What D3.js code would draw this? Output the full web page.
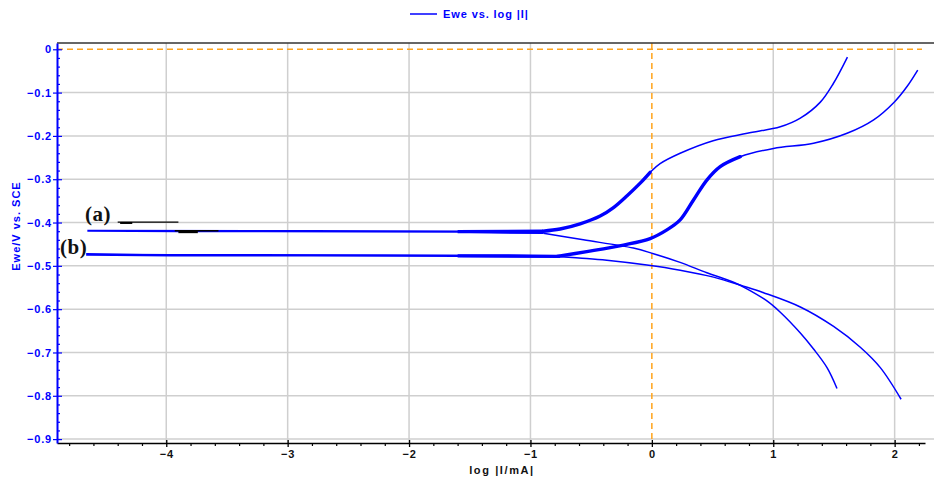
<!DOCTYPE html>
<html>
<head>
<meta charset="utf-8">
<script src="https://cdn.jsdelivr.net/npm/d3@7"></script>
<style>
  body { margin: 0; background: #fff; }
  svg { display: block; font-family: "Liberation Sans", Arial, sans-serif; }
</style>
</head>
<body>
<svg id="chart" width="934" height="485"></svg>
<script>
// tick values
const xTicks = [-4, -3, -2, -1, 0, 1, 2];
const yTicks = [0, -0.1, -0.2, -0.3, -0.4, -0.5, -0.6, -0.7, -0.8, -0.9];

// curve (a): [log|I/mA|, Ewe/V]
const aCathodic = [[1.525,-0.783],[1.443,-0.735],[1.332,-0.692],[1.223,-0.655],[1.058,-0.607],[0.948,-0.581],[0.783,-0.553],[0.673,-0.538],[0.453,-0.516],[0.233,-0.492],[0.013,-0.472],[-0.152,-0.459],[-0.564,-0.440],[-0.894,-0.425]];
const aFlat = [[-0.894,-0.423],[-1.5,-0.421],[-2.8,-0.420],[-3.9,-0.420],[-4.65,-0.419],[-3.2,-0.420],[-1.6,-0.421],[-0.896,-0.420]];
const aAnodic = [[-0.896,-0.420],[-0.756,-0.415],[-0.591,-0.403],[-0.426,-0.385],[-0.319,-0.366],[-0.204,-0.338],[-0.096,-0.309],[-0.014,-0.284],[0.068,-0.264],[0.233,-0.240],[0.505,-0.211],[0.786,-0.194],[1.058,-0.179],[1.223,-0.159],[1.388,-0.122],[1.495,-0.079],[1.611,-0.018]];

// curve (b)
const bCathodic = [[2.053,-0.808],[1.882,-0.735],[1.717,-0.688],[1.497,-0.640],[1.223,-0.595],[0.920,-0.562],[0.755,-0.547],[0.508,-0.526],[0.233,-0.510],[-0.041,-0.498],[-0.371,-0.487],[-0.536,-0.483],[-0.756,-0.479]];
const bFlat = [[-0.756,-0.478],[-1.6,-0.477],[-2.8,-0.476],[-3.96,-0.476],[-4.66,-0.474],[-3.97,-0.475],[-2.2,-0.476],[-1.2,-0.477],[-0.78,-0.478]];
const bAnodic = [[-0.78,-0.478],[-0.536,-0.467],[-0.234,-0.452],[-0.014,-0.437],[0.124,-0.417],[0.233,-0.394],[0.343,-0.348],[0.453,-0.302],[0.563,-0.271],[0.728,-0.248],[1.002,-0.229],[1.332,-0.217],[1.608,-0.194],[1.827,-0.163],[2.0,-0.121],[2.102,-0.086],[2.190,-0.048]];

const svg = d3.select("#chart");
const mLeft = 57, mRight = 925, mTop = 43, mBottom = 443;

const x = d3.scaleLinear().domain([-4.9, 2.25]).range([mLeft, mRight]);
const y = d3.scaleLinear().domain([0.0145, -0.909]).range([mTop, mBottom]);

const blue = "#0000ff";
const orange = "#ffa31a";

// grid
svg.append("g").selectAll("line").data(yTicks.slice(1)).join("line")
  .attr("x1", mLeft).attr("x2", 934)
  .attr("y1", d => y(d)).attr("y2", d => y(d))
  .attr("stroke", "#cfcfcf").attr("stroke-width", 1.5);
svg.append("g").selectAll("line").data(xTicks.filter(d => d !== 0)).join("line")
  .attr("x1", d => x(d)).attr("x2", d => x(d))
  .attr("y1", mTop).attr("y2", mBottom)
  .attr("stroke", "#cfcfcf").attr("stroke-width", 1.5);

// zero reference lines
svg.append("line").attr("x1", mLeft).attr("x2", 922).attr("y1", y(0)).attr("y2", y(0))
  .attr("stroke", orange).attr("stroke-width", 1.5).attr("stroke-dasharray", "6,4");
svg.append("line").attr("x1", x(0)).attr("x2", x(0)).attr("y1", mTop).attr("y2", mBottom)
  .attr("stroke", orange).attr("stroke-width", 1.5).attr("stroke-dasharray", "6,4");

// frame top
svg.append("line").attr("x1", mLeft).attr("x2", 934).attr("y1", mTop).attr("y2", mTop)
  .attr("stroke", "#333").attr("stroke-width", 1.5);

// x axis
const xAxis = svg.append("g").attr("transform", `translate(0,${mBottom})`)
  .call(d3.axisBottom(x).tickValues(xTicks).tickSize(4).tickSizeOuter(0).tickFormat(d3.format("d")));
xAxis.select(".domain").attr("stroke", "#000").attr("stroke-width", 1.5);
xAxis.selectAll(".tick line").attr("y1", -3).attr("stroke-width", 1.3);
xAxis.selectAll(".tick text").attr("font-size", 11).attr("font-weight", "bold").attr("fill", "#111")
  .attr("y", 7).attr("dy", "0.71em").attr("letter-spacing", 0.8);
svg.append("g").attr("transform", `translate(0,${mBottom})`)
  .call(d3.axisBottom(x).tickValues(d3.range(-4.8, 2.21, 0.2).filter(v => Math.abs(v - Math.round(v)) > 0.01)).tickSize(3).tickFormat(""))
  .call(g => g.select(".domain").remove())
  .selectAll("line").attr("stroke-width", 1.2);

// y axis
const yAxis = svg.append("g").attr("transform", `translate(${mLeft},0)`)
  .call(d3.axisLeft(y).tickValues(yTicks).tickSize(-5).tickSizeOuter(0).tickFormat(d => d === 0 ? "0" : d3.format(".1f")(d)));
yAxis.select(".domain").attr("stroke", blue).attr("stroke-width", 2);
yAxis.selectAll(".tick line").attr("stroke", blue).attr("x1", -4).attr("stroke-width", 1.2);
yAxis.selectAll(".tick text").attr("font-size", 11).attr("font-weight", "bold").attr("fill", blue)
  .attr("x", -5).attr("letter-spacing", 0.8);
svg.append("g").attr("transform", `translate(${mLeft},0)`)
  .call(d3.axisLeft(y).tickValues(d3.range(-0.02, -0.905, -0.02).filter(v => Math.abs(v * 10 - Math.round(v * 10)) > 0.01)).tickSize(-3).tickFormat(""))
  .call(g => g.select(".domain").remove())
  .selectAll("line").attr("stroke", blue).attr("stroke-width", 1.2);

// axis titles
svg.append("text").attr("x", 502).attr("y", 474).attr("text-anchor", "middle")
  .attr("font-size", 11).attr("font-weight", "bold").attr("fill", "#111").attr("letter-spacing", 1.6).text("log |I/mA|");
svg.append("text").attr("transform", "translate(20,226) rotate(-90)").attr("text-anchor", "middle")
  .attr("font-size", 11).attr("font-weight", "bold").attr("fill", blue).attr("letter-spacing", 1).text("Ewe/V vs. SCE");

// legend
svg.append("line").attr("x1", 410).attr("x2", 437).attr("y1", 14).attr("y2", 14)
  .attr("stroke", blue).attr("stroke-width", 1.5);
svg.append("text").attr("x", 443).attr("y", 18).attr("font-size", 11).attr("font-weight", "bold").attr("fill", blue)
  .attr("letter-spacing", 0.9).text("Ewe vs. log |I|");

// curves
const line = d3.line().x(d => x(d[0])).y(d => y(d[1])).curve(d3.curveCatmullRom.alpha(0.5));
const straight = d3.line().x(d => x(d[0])).y(d => y(d[1]));
const curves = [
  { cath: aCathodic, flat: aFlat, anod: aAnodic, thick: [-0.9, 0.0] },
  { cath: bCathodic, flat: bFlat, anod: bAnodic, thick: [-0.8, 0.75] }
];
curves.forEach(c => {
  svg.append("path").attr("d", line(c.cath)).attr("fill", "none")
    .attr("stroke", blue).attr("stroke-width", 1.5);
  svg.append("path").attr("d", line(c.anod)).attr("fill", "none")
    .attr("stroke", blue).attr("stroke-width", 1.5);
  svg.append("path").attr("d", straight(c.flat)).attr("fill", "none")
    .attr("stroke", blue).attr("stroke-width", 2.2);
  svg.append("path").attr("d", straight(c.flat.filter(d => d[0] > -1.7))).attr("fill", "none")
    .attr("stroke", blue).attr("stroke-width", 3.2);
  svg.append("path").attr("d", line(c.anod.filter(d => d[0] >= c.thick[0] && d[0] <= c.thick[1]))).attr("fill", "none")
    .attr("stroke", blue).attr("stroke-width", 3.4).attr("stroke-linecap", "round");
});

// labels and stray marks
svg.append("text").attr("x", x(-4.67)).attr("y", y(-0.3965)).attr("font-family", "Liberation Serif, Times New Roman, serif")
  .attr("font-weight", "bold").attr("font-size", 21).attr("letter-spacing", 0.5).attr("fill", "#111").text("(a)");
svg.append("text").attr("x", x(-4.875)).attr("y", y(-0.4726)).attr("font-family", "Liberation Serif, Times New Roman, serif")
  .attr("font-weight", "bold").attr("font-size", 21).attr("letter-spacing", 0.5).attr("fill", "#111").text("(b)");
svg.append("line").attr("x1", x(-4.4)).attr("x2", x(-3.9)).attr("y1", y(-0.399)).attr("y2", y(-0.399))
  .attr("stroke", "#000").attr("stroke-width", 1.2);
svg.append("line").attr("x1", x(-4.38)).attr("x2", x(-4.28)).attr("y1", y(-0.401)).attr("y2", y(-0.401))
  .attr("stroke", "#000").attr("stroke-width", 2);
svg.append("line").attr("x1", x(-3.93)).attr("x2", x(-3.57)).attr("y1", y(-0.419)).attr("y2", y(-0.419))
  .attr("stroke", "#000").attr("stroke-width", 1.3);
svg.append("line").attr("x1", x(-3.9)).attr("x2", x(-3.74)).attr("y1", y(-0.422)).attr("y2", y(-0.422))
  .attr("stroke", "#000").attr("stroke-width", 2.2);
</script>
</body>
</html>
